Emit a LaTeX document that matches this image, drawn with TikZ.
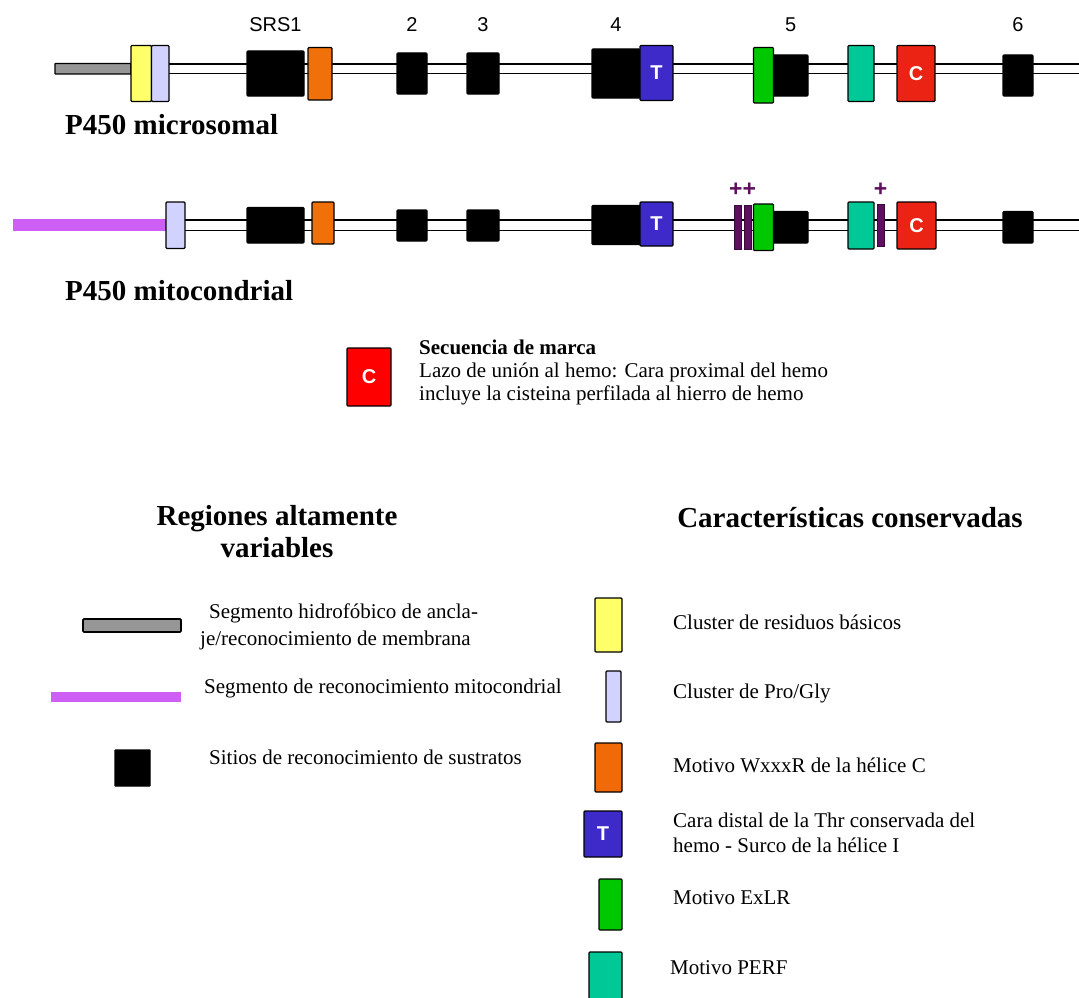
\documentclass[tikz,border=0pt]{standalone}
\usepackage{fontspec}
\setmainfont{Liberation Serif}
\setsansfont{Liberation Sans}
\usepackage{tikz}
\usetikzlibrary{positioning}

\definecolor{hidro}{RGB}{150,150,150}
\definecolor{mito}{RGB}{205,95,245}
\definecolor{amar}{RGB}{255,255,105}
\definecolor{progly}{RGB}{210,210,255}
\definecolor{naranja}{RGB}{240,112,10}
\definecolor{azulT}{RGB}{62,42,200}
\definecolor{verde}{RGB}{0,200,0}
\definecolor{turq}{RGB}{0,200,150}
\definecolor{rojoC}{RGB}{235,35,20}
\definecolor{morado}{RGB}{95,15,95}

\begin{document}
\begin{tikzpicture}[
  x=1pt, y=-1pt,
  seg/.style={draw, line width=1.2pt, rounded corners=1pt, inner sep=0pt},
  sz/.style 2 args={minimum width=#1pt, minimum height=#2pt},
  srs/.style={seg, fill=black},
  letra/.style={text=white, font=\sffamily\bfseries\fontsize{20}{24}\selectfont},
  num/.style={font=\sffamily\fontsize{20}{24}\selectfont},
  mas/.style={text=morado, font=\sffamily\bfseries\fontsize{23}{24}\selectfont, inner sep=0pt},
  barra/.style={fill=morado, draw=morado!60!black, line width=0.5pt, inner sep=0pt},
  titulo/.style={font=\bfseries\fontsize{29}{31}\selectfont, anchor=west, inner sep=0pt},
  cabeza/.style={font=\bfseries\fontsize{29}{32}\selectfont, align=center, inner sep=0pt},
  leyenda/.style={font=\fontsize{21}{27}\selectfont, anchor=west, align=left, inner sep=0pt},
  eje/.style={line width=1.4pt}
]
\useasboundingbox (0,0) rectangle (1079,998);

% P450 microsomal
\draw[eje] (131,64) -- (1079,64);
\draw[eje] (131,73.5) -- (1079,73.5);
\node[seg, fill=hidro, sz={76}{10.5}, rounded corners=0.5pt] (hid1) at (93,68.75) {};
\node[seg, fill=amar, sz={20.5}{56}] (yel1) at (141.25,73.5) {};
\node[seg, fill=progly, sz={17.5}{56}] (lav1) at (160.25,73.5) {};
\node[srs, sz={57}{45}] (srs1) at (275.5,73.5) {};
\node[seg, fill=naranja, sz={24}{52.5}] (ora1) at (320,73.75) {};
\node[srs, sz={30}{41}] (srs2) at (412,73.5) {};
\node[srs, sz={32}{41}] (srs3) at (483,73.5) {};
\node[srs, sz={48}{49}] (srs4) at (616,73.5) {};
\node[seg, fill=azulT, sz={33}{55}] (thr1) at (656.5,73) {};
\node[letra] at (thr1) {T};
\node[srs, sz={34.5}{41}] (srs5) at (790.75,75.5) {};
\node[seg, fill=verde, sz={20}{55.5}] (grn1) at (763.5,75.25) {};
\node[seg, fill=turq, sz={26}{56}] (perf1) at (861,73.5) {};
\node[seg, fill=rojoC, sz={38}{56}] (cis1) at (916,73.5) {};
\node[letra] at (cis1) {C};
\node[srs, sz={30}{41}] (srs6) at (1018,75.5) {};

\node[num] at (srs1 |- 0,25) {SRS1};
\node[num] at (srs2 |- 0,25) {2};
\node[num] at (srs3 |- 0,25) {3};
\node[num] at (srs4 |- 0,25) {4};
\node[num] at (srs5 |- 0,25) {5};
\node[num] at (srs6 |- 0,25) {6};

\node[titulo] (micro) at (65,125) {P450 microsomal};

% P450 mitocondrial
\draw[eje] (166,220) -- (1079,220);
\draw[eje] (166,230.5) -- (1079,230.5);
\draw[mito, line width=12pt] (13,225) -- (166,225);
\node[seg, fill=progly, sz={19}{46.5}] (lav2) at (175.5,225.25) {};
\node[srs, sz={57}{35.5}] (srsb1) at (275.5,225.25) {};
\node[seg, fill=naranja, sz={22}{42}] (ora2) at (323,223) {};
\node[srs, sz={30}{31}] (srsb2) at (412,225.5) {};
\node[srs, sz={32}{31}] (srsb3) at (483,225.5) {};
\node[srs, sz={48.5}{39}] (srsb4) at (616.25,225) {};
\node[seg, fill=azulT, sz={33}{44}] (thr2) at (656.5,224) {};
\node[letra] at (thr2) {T};
\node[barra, sz={7.5}{43.5}] (bara) at (737.75,227.25) {};
\node[barra, sz={7}{43.5}] (barb) at (747.5,227.25) {};
\node[srs, sz={34.5}{31.5}] (srsb5) at (790.75,227.25) {};
\node[seg, fill=verde, sz={20}{46.5}] (grn2) at (763.5,227.25) {};
\node[seg, fill=turq, sz={26}{47}] (perf2) at (861,225.5) {};
\node[barra, sz={7}{42}] (barc) at (880.5,225) {};
\node[seg, fill=rojoC, sz={39}{47}] (cis2) at (916.5,225.5) {};
\node[letra] at (cis2) {C};
\node[srs, sz={30}{31.5}] (srsb6) at (1018,227.25) {};

\node[mas] at (742.5,190) {++};
\node[mas] at (880.5,190) {+};

\node[titulo] (mitoc) at (65,291) {P450 mitocondrial};

% secuencia de marca
\node[seg, fill=red, sz={44}{58}] (cisL) at (369,377) {};
\node[letra] at (cisL) {C};
\node[leyenda, font=\fontsize{21}{23}\selectfont, anchor=north west] (marca) at (419,340)
  {\textbf{Secuencia de marca}\\
   Lazo de unión al hemo: Cara proximal del hemo\\
   incluye la cisteina perfilada al hierro de hemo};

% regiones altamente variables
\node[cabeza] (varia) at (277,532) {Regiones altamente\\variables};
\node[seg, fill=hidro, sz={98}{13}, line width=1.6pt] (hidL) at (132,625.5) {};
\node[leyenda] at (200,627) {\hspace*{9pt}Segmento hidrofóbico de ancla-\\je/reconocimiento de membrana};
\fill[mito] (51,692) rectangle (181,702);
\node[leyenda] at (204,688) {Segmento de reconocimiento mitocondrial};
\node[srs, rounded corners=0.5pt, sz={35}{36}] (srsL) at (132.5,768) {};
\node[leyenda] at (209,757) {Sitios de reconocimiento de sustratos};

% caracteristicas conservadas
\node[cabeza] (conse) at (850,518) {Características conservadas};
\node[seg, fill=amar, sz={27}{54}] (yelL) at (608.5,625) {};
\node[leyenda] at (673,622) {Cluster de residuos básicos};
\node[seg, fill=progly, sz={15}{51}] (lavL) at (613.5,696.5) {};
\node[leyenda] at (673,693) {Cluster de Pro/Gly};
\node[seg, fill=naranja!95!red, sz={27}{49}] (oraL) at (608.5,767.5) {};
\node[leyenda] at (673,765) {Motivo WxxxR de la hélice C};
\node[seg, fill=azulT, sz={38}{46}] (thrL) at (603,834) {};
\node[letra] at (thrL) {T};
\node[leyenda, font=\fontsize{21}{25}\selectfont] at (673,833) {Cara distal de la Thr conservada del\\hemo - Surco de la hélice I};
\node[seg, fill=verde, sz={23}{51}] (grnL) at (610.5,904.5) {};
\node[leyenda] at (673,898) {Motivo ExLR};
\node[seg, fill=turq, sz={33}{56}] (perfL) at (605.5,980) {};
\node[leyenda] at (670,968) {Motivo PERF};
\end{tikzpicture}
\end{document}
